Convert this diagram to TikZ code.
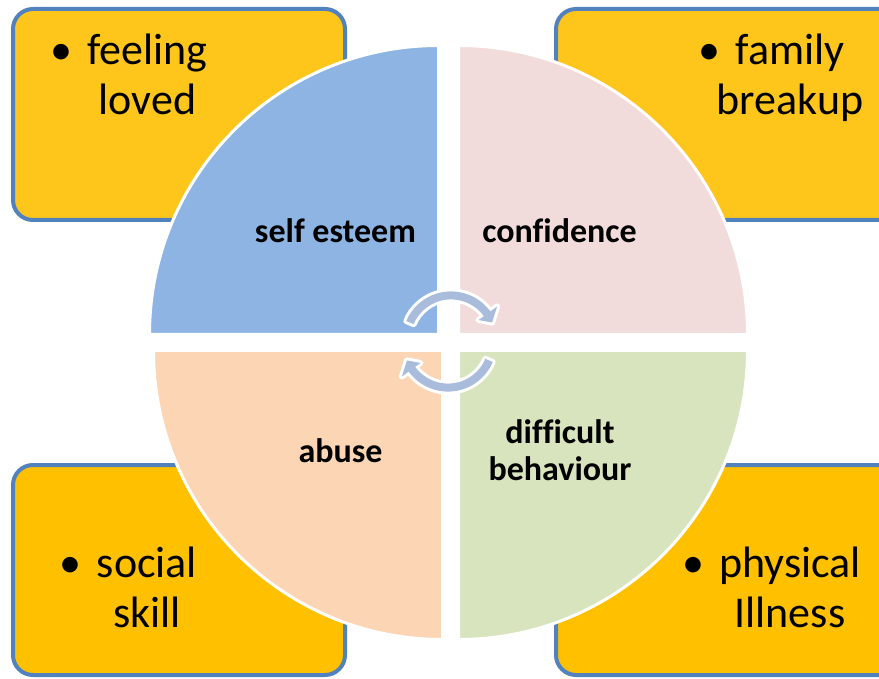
\documentclass[tikz,border=0pt]{standalone}
\usepackage{fontspec}
\setmainfont{Carlito}[Ligatures=NoCommon]
\definecolor{boxblue}{HTML}{5282BE}
\definecolor{boxtop}{HTML}{FEC61A}
\definecolor{boxlow}{HTML}{FFC000}
\definecolor{qblue}{HTML}{8EB4E3}
\definecolor{qpink}{HTML}{F2DCDB}
\definecolor{qpeach}{HTML}{FCD5B5}
\definecolor{qgreen}{HTML}{D7E4BD}
\definecolor{arrowblue}{HTML}{A9BCDB}
% one curved arrow of the cycle: band along an arc, ending in a short wide head
\newcommand\cyclearc{(-157:48.6) arc[start angle=-157, end angle=-36, radius=48.6]
  -- (-36:57) -- (-23:44.6) -- (-36:34) -- (-36:40.6)
  arc[start angle=-36, end angle=-157, radius=40.6] -- cycle}
\begin{document}
\begin{tikzpicture}[x=1pt,y=-1pt,
  factor/.style={draw=boxblue, line width=4pt, rounded corners=20pt},
  topfactor/.style={factor, fill=boxtop},
  lowfactor/.style={factor, fill=boxlow},
  point/.style={align=center, anchor=base, inner sep=0pt,
    font=\fontsize{44}{50}\selectfont},
  slice/.style={draw=white, line width=3pt, line join=round},
  seglabel/.style={align=center, anchor=base, inner sep=0pt,
    font=\bfseries\fontsize{34}{37}\selectfont},
  cyc/.style={fill=arrowblue, preaction={draw=white, line width=6pt, line join=round}}
]
\useasboundingbox (0,0) rectangle (879,679);
\clip (0,0) rectangle (879,679);

% outer factor boxes
\path[topfactor] (13,9) rectangle (345,220);
\path[topfactor] (556,9) rectangle (910,220);
\path[lowfactor] (13,465) rectangle (345,675);
\path[lowfactor] (556,465) rectangle (910,675);

% multi-line nodes sit on the baseline of their last line
\node[point] (loved)    at (147.5,115) {\llap{•\hspace{15pt}}feeling\\loved};
\node[point] (breakup)  at (790,115)   {\llap{•\hspace{15pt}}family\\breakup};
\node[point] (social)   at (147,627)   {\llap{•\hspace{15pt}}social\\skill};
\node[point] (physical) at (790,627)   {\llap{•\hspace{15pt}}physical\\Illness};

% the four quarters of the central circle
\path[slice, fill=qblue]  (438.5,334.5) -- ++(-289,0)
  arc[start angle=-180, end angle=-90, radius=289] -- cycle;
\path[slice, fill=qpink]  (458.5,334.5) -- ++(0,-289)
  arc[start angle=-90, end angle=0, radius=289] -- cycle;
\path[slice, fill=qpeach] (442.5,350.5) -- ++(0,289)
  arc[start angle=90, end angle=180, radius=289] -- cycle;
\path[slice, fill=qgreen] (458.5,350.5) -- ++(289,0)
  arc[start angle=0, end angle=90, radius=289] -- cycle;

\node[seglabel] (esteem)     at (335.5,243) {self esteem};
\node[seglabel] (confidence) at (559.5,243) {confidence};
\node[seglabel] (abuse)      at (340.5,462) {abuse};
\node[seglabel] (behaviour)  at (560,480)   {difficult\\behaviour};

% cycle arrows in the middle
\begin{scope}[shift={(451,340)}]
  \path[cyc] \cyclearc;
\end{scope}
\begin{scope}[shift={(448,343)}, rotate=180]
  \path[cyc] \cyclearc;
\end{scope}
\end{tikzpicture}
\end{document}
